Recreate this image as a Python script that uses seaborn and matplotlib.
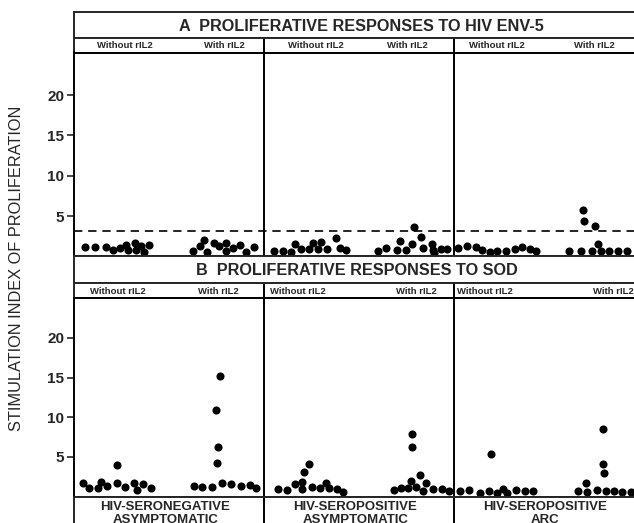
import pandas as pd
import matplotlib
matplotlib.use('Agg')
import matplotlib.pyplot as plt
import seaborn as sns

# patient groups (columns) and culture conditions
groups = ['HIV-SERONEGATIVE\nASYMPTOMATIC', 'HIV-SEROPOSITIVE\nASYMPTOMATIC', 'HIV-SEROPOSITIVE\nARC']
conditions = ['Without rIL2', 'With rIL2']
cutoff_env5 = 3.2

# position of each subject inside its column (0-1) and stimulation index
# --- A: HIV ENV-5 ---
env5_neg_without_pos = [.056, .109, .167, .207, .242, .272, .284, .319, .328, .351, .368, .395]
env5_neg_without_si = [1.11, 1.11, 1.11, 0.78, 0.99, 1.40, 0.78, 1.61, 0.78, 1.32, 0.57, 1.40]
env5_neg_with_pos = [.626, .663, .684, .698, .737, .763, .798, .798, .839, .874, .904, .947]
env5_neg_with_si = [0.69, 1.28, 2.02, 0.57, 1.69, 1.28, 1.61, 0.69, 0.99, 1.40, 0.57, 1.11]

env5_asy_without_pos = [.053, .102, .140, .161, .193, .237, .260, .284, .298, .333, .381, .400, .430]
env5_asy_without_si = [0.69, 0.69, 0.49, 1.48, 0.90, 0.87, 1.61, 0.87, 1.81, 0.87, 2.23, 1.07, 0.78]
env5_asy_with_pos = [.600, .640, .698, .714, .749, .781, .789, .825, .839, .886, .891, .895, .930, .961]
env5_asy_with_si = [0.69, 0.99, 0.78, 1.94, 0.78, 1.48, 3.67, 2.43, 1.07, 1.48, 0.78, 0.37, 0.87, 0.87]

env5_arc_without_pos = [.021, .070, .114, .149, .189, .228, .272, .321, .360, .400, .430]
env5_arc_without_si = [0.99, 1.28, 1.19, 0.78, 0.57, 0.69, 0.69, 0.87, 1.19, 0.87, 0.66]
env5_arc_with_pos = [.605, .667, .681, .684, .728, .740, .758, .775, .816, .863, .909]
env5_arc_with_si = [0.69, 0.69, 5.74, 4.41, 0.69, 3.75, 1.52, 0.69, 0.69, 0.69, 0.69]

# --- B: SOD ---
sod_neg_without_pos = [.049, .079, .126, .144, .175, .225, .225, .267, .316, .333, .365, .407]
sod_neg_without_si = [1.73, 1.02, 1.02, 1.85, 1.31, 1.73, 3.96, 1.14, 1.73, 0.81, 1.56, 1.02]
sod_neg_with_pos = [.632, .675, .728, .754, .760, .747, .768, .777, .828, .881, .926, .956]
sod_neg_with_si = [1.31, 1.14, 1.14, 4.17, 6.19, 10.9, 15.2, 1.73, 1.56, 1.31, 1.44, 1.02]

sod_asy_without_pos = [.074, .119, .161, .202, .202, .211, .237, .254, .295, .328, .342, .382, .418]
sod_asy_without_si = [0.93, 0.81, 1.56, 1.85, 0.89, 3.12, 4.09, 1.22, 1.02, 1.65, 1.02, 0.89, 0.59]
sod_asy_with_pos = [.684, .719, .758, .775, .777, .777, .798, .821, .839, .851, .891, .939, .974]
sod_asy_with_si = [0.81, 1.10, 1.10, 1.94, 6.19, 7.87, 1.14, 2.70, 0.72, 1.73, 0.89, 0.89, 0.68]

sod_arc_without_pos = [.032, .079, .137, .184, .196, .228, .260, .281, .328, .374, .418]
sod_arc_without_si = [0.72, 0.81, 0.47, 0.68, 5.30, 0.38, 0.93, 0.47, 0.81, 0.72, 0.72]
sod_arc_with_pos = [.653, .693, .702, .751, .784, .786, .789, .798, .842, .886, .930]
sod_arc_with_si = [0.72, 1.65, 0.59, 0.81, 8.50, 4.09, 2.91, 0.72, 0.72, 0.59, 0.59]


def build_frame():
    rows = []
    series = {
        'A': [(env5_neg_without_pos, env5_neg_without_si), (env5_neg_with_pos, env5_neg_with_si),
              (env5_asy_without_pos, env5_asy_without_si), (env5_asy_with_pos, env5_asy_with_si),
              (env5_arc_without_pos, env5_arc_without_si), (env5_arc_with_pos, env5_arc_with_si)],
        'B': [(sod_neg_without_pos, sod_neg_without_si), (sod_neg_with_pos, sod_neg_with_si),
              (sod_asy_without_pos, sod_asy_without_si), (sod_asy_with_pos, sod_asy_with_si),
              (sod_arc_without_pos, sod_arc_without_si), (sod_arc_with_pos, sod_arc_with_si)],
    }
    for panel, lists in series.items():
        for i, (pos, si) in enumerate(lists):
            g = i // 2
            for p, v in zip(pos, si):
                rows.append({'panel': panel, 'group': groups[g], 'condition': conditions[i % 2],
                             'x': g + p, 'si': v})
    return pd.DataFrame(rows)


def strip_axes(fig, rect, lw):
    ax = fig.add_axes(rect)
    ax.set_xlim(0, 3)
    ax.set_ylim(0, 1)
    ax.set_xticks([])
    ax.set_yticks([])
    for s in ax.spines.values():
        s.set_linewidth(lw)
    return ax


def main():
    df = build_frame()
    sns.set_style('white')
    plt.rcParams['font.family'] = ['Liberation Sans', 'DejaVu Sans']

    fig = plt.figure(figsize=(6.34, 5.23), dpi=100)
    W, H = 634, 523
    left = 74 / W
    width = 570 / W
    lw = 1.4

    def rect(top, bottom):
        return [left, 1 - bottom / H, width, (bottom - top) / H]

    panels = [
        ('A', 'A  PROLIFERATIVE RESPONSES TO HIV ENV-5', 1.513, (12, 38, 52.5, 256.3), 25.3,
         [(0.27, 0.79), (0.275, 0.757), (0.226, 0.737)]),
        ('B', 'B  PROLIFERATIVE RESPONSES TO SOD', 1.49, (256.3, 283, 298.3, 496.5), 25.0,
         [(0.23, 0.76), (0.18, 0.80), (0.16, 0.837)]),
    ]

    for key, title, tx, (t0, t1, t2, t3), ymax, subpos in panels:
        tax = strip_axes(fig, rect(t0, t1), lw)
        tax.text(tx, 0.45, title, ha='center', va='center', fontsize=11.7, fontweight='bold')

        hax = strip_axes(fig, rect(t1, t2), lw)
        for g, (fw, fo) in enumerate(subpos):
            hax.text(g + fw, 0.45, conditions[0], ha='center', va='center', fontsize=6.8, fontweight='bold')
            hax.text(g + fo, 0.45, conditions[1], ha='center', va='center', fontsize=6.8, fontweight='bold')
            if g > 0:
                hax.axvline(g, color='black', lw=lw)

        ax = fig.add_axes(rect(t2, t3))
        sub = df[df['panel'] == key]
        sns.scatterplot(data=sub, x='x', y='si', ax=ax, color='black', s=34,
                        edgecolor='black', linewidth=0, legend=False, zorder=3)
        ax.set_xlim(0, 3)
        ax.set_ylim(0, ymax)
        ax.set_xticks([])
        ax.set_yticks([5, 10, 15, 20])
        ax.tick_params(axis='y', direction='out', length=5, width=1.2, labelsize=11, pad=2, left=True)
        for lab in ax.get_yticklabels():
            lab.set_fontweight('bold')
        ax.set_xlabel('')
        ax.set_ylabel('')
        for s in ax.spines.values():
            s.set_linewidth(lw)
            s.set_color('black')
        for g in (1, 2):
            ax.axvline(g, color='black', lw=lw)
        if key == 'A':
            ax.axhline(cutoff_env5, color='black', lw=1.2, dashes=(5, 3.5))

    # bottom strip with group names
    bax = strip_axes(fig, rect(496.5, 540), lw)
    for g, name in enumerate(groups):
        bax.text(g + 0.48, 0.9, name, ha='center', va='top', fontsize=9.5, fontweight='bold',
                 linespacing=1.1)
        if g > 0:
            bax.axvline(g, color='black', lw=lw)

    fig.text(17 / W, 1 - 268 / H, 'STIMULATION INDEX OF PROLIFERATION', rotation=90,
             ha='center', va='center', fontsize=11.8)

    fig.savefig('out.png', dpi=100)


if __name__ == '__main__':
    main()
